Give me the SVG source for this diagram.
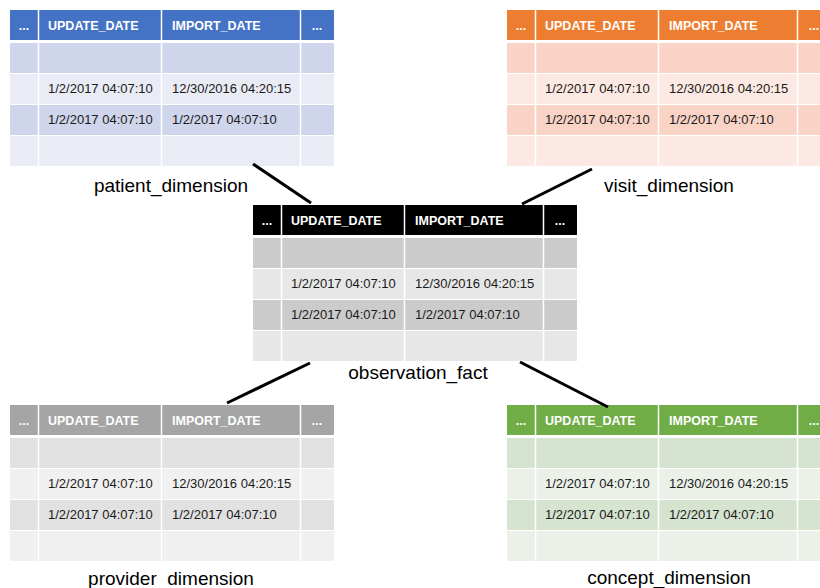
<svg xmlns="http://www.w3.org/2000/svg" width="820" height="588" viewBox="0 0 820 588">
<style>
.hdr{font-family:"Liberation Sans",Arial,sans-serif;font-weight:bold;font-size:12.5px;fill:#ffffff}
.dot{font-family:"Liberation Sans",Arial,sans-serif;font-weight:bold;font-size:12.5px;fill:#ffffff;text-anchor:middle}
.dat{font-family:"Liberation Sans",Arial,sans-serif;font-size:13px;fill:#1a1a1a}
.lbl{font-family:"Liberation Sans",Arial,sans-serif;font-size:19px;fill:#000000;text-anchor:middle}
.grid{stroke:#ffffff;stroke-width:1.5}
.conn{stroke:#000000;stroke-width:3;fill:none}
.blue .h{fill:#4472C4}.blue .b{fill:#CFD5EA}.blue .l{fill:#E9EBF5}
.orange .h{fill:#ED7D31}.orange .b{fill:#F8D3C6}.orange .l{fill:#FCE9E3}
.black .h{fill:#000000}.black .b{fill:#CBCBCB}.black .l{fill:#E7E7E7}
.grey .h{fill:#A5A5A5}.grey .b{fill:#E1E1E1}.grey .l{fill:#F0F0F0}
.green .h{fill:#70AD47}.green .b{fill:#D5E3CF}.green .l{fill:#EBF1E9}
</style>

<g id="patient_dimension" class="blue" transform="translate(10,10)">
<rect class="h" x="0" y="0" width="324" height="30"/>
<rect class="b" x="0" y="33" width="324" height="30"/>
<rect class="l" x="0" y="64" width="324" height="30"/>
<rect class="b" x="0" y="95" width="324" height="30"/>
<rect class="l" x="0" y="126" width="324" height="30"/>
<g class="grid"><line x1="28.5" y1="0" x2="28.5" y2="156"/><line x1="151.5" y1="0" x2="151.5" y2="156"/><line x1="290.5" y1="0" x2="290.5" y2="156"/></g>
<text class="dot" x="14" y="19.5">...</text>
<text class="hdr" x="38" y="19.5">UPDATE_DATE</text>
<text class="hdr" x="162" y="19.5">IMPORT_DATE</text>
<text class="dot" x="307" y="19.5">...</text>
<text class="dat" x="38" y="83">1/2/2017 04:07:10</text>
<text class="dat" x="162" y="83">12/30/2016 04:20:15</text>
<text class="dat" x="38" y="114">1/2/2017 04:07:10</text>
<text class="dat" x="162" y="114">1/2/2017 04:07:10</text>
</g>
<text class="lbl" x="171" y="192">patient_dimension</text>

<g id="visit_dimension" class="orange" transform="translate(507,10)">
<rect class="h" x="0" y="0" width="324" height="30"/>
<rect class="b" x="0" y="33" width="324" height="30"/>
<rect class="l" x="0" y="64" width="324" height="30"/>
<rect class="b" x="0" y="95" width="324" height="30"/>
<rect class="l" x="0" y="126" width="324" height="30"/>
<g class="grid"><line x1="28.5" y1="0" x2="28.5" y2="156"/><line x1="151.5" y1="0" x2="151.5" y2="156"/><line x1="290.5" y1="0" x2="290.5" y2="156"/></g>
<text class="dot" x="14" y="19.5">...</text>
<text class="hdr" x="38" y="19.5">UPDATE_DATE</text>
<text class="hdr" x="162" y="19.5">IMPORT_DATE</text>
<text class="dot" x="307" y="19.5">...</text>
<text class="dat" x="38" y="83">1/2/2017 04:07:10</text>
<text class="dat" x="162" y="83">12/30/2016 04:20:15</text>
<text class="dat" x="38" y="114">1/2/2017 04:07:10</text>
<text class="dat" x="162" y="114">1/2/2017 04:07:10</text>
</g>
<text class="lbl" x="669" y="192">visit_dimension</text>

<g id="observation_fact" class="black" transform="translate(253,205)">
<rect class="h" x="0" y="0" width="324" height="30"/>
<rect class="b" x="0" y="33" width="324" height="30"/>
<rect class="l" x="0" y="64" width="324" height="30"/>
<rect class="b" x="0" y="95" width="324" height="30"/>
<rect class="l" x="0" y="126" width="324" height="30"/>
<g class="grid"><line x1="28.5" y1="0" x2="28.5" y2="156"/><line x1="151.5" y1="0" x2="151.5" y2="156"/><line x1="290.5" y1="0" x2="290.5" y2="156"/></g>
<text class="dot" x="14" y="19.5">...</text>
<text class="hdr" x="38" y="19.5">UPDATE_DATE</text>
<text class="hdr" x="162" y="19.5">IMPORT_DATE</text>
<text class="dot" x="307" y="19.5">...</text>
<text class="dat" x="38" y="83">1/2/2017 04:07:10</text>
<text class="dat" x="162" y="83">12/30/2016 04:20:15</text>
<text class="dat" x="38" y="114">1/2/2017 04:07:10</text>
<text class="dat" x="162" y="114">1/2/2017 04:07:10</text>
</g>
<text class="lbl" x="418" y="379">observation_fact</text>

<g id="provider_dimension" class="grey" transform="translate(10,405)">
<rect class="h" x="0" y="0" width="324" height="30"/>
<rect class="b" x="0" y="33" width="324" height="30"/>
<rect class="l" x="0" y="64" width="324" height="30"/>
<rect class="b" x="0" y="95" width="324" height="30"/>
<rect class="l" x="0" y="126" width="324" height="30"/>
<g class="grid"><line x1="28.5" y1="0" x2="28.5" y2="156"/><line x1="151.5" y1="0" x2="151.5" y2="156"/><line x1="290.5" y1="0" x2="290.5" y2="156"/></g>
<text class="dot" x="14" y="19.5">...</text>
<text class="hdr" x="38" y="19.5">UPDATE_DATE</text>
<text class="hdr" x="162" y="19.5">IMPORT_DATE</text>
<text class="dot" x="307" y="19.5">...</text>
<text class="dat" x="38" y="83">1/2/2017 04:07:10</text>
<text class="dat" x="162" y="83">12/30/2016 04:20:15</text>
<text class="dat" x="38" y="114">1/2/2017 04:07:10</text>
<text class="dat" x="162" y="114">1/2/2017 04:07:10</text>
</g>
<text class="lbl" x="171" y="585">provider_dimension</text>

<g id="concept_dimension" class="green" transform="translate(507,405)">
<rect class="h" x="0" y="0" width="324" height="30"/>
<rect class="b" x="0" y="33" width="324" height="30"/>
<rect class="l" x="0" y="64" width="324" height="30"/>
<rect class="b" x="0" y="95" width="324" height="30"/>
<rect class="l" x="0" y="126" width="324" height="30"/>
<g class="grid"><line x1="28.5" y1="0" x2="28.5" y2="156"/><line x1="151.5" y1="0" x2="151.5" y2="156"/><line x1="290.5" y1="0" x2="290.5" y2="156"/></g>
<text class="dot" x="14" y="19.5">...</text>
<text class="hdr" x="38" y="19.5">UPDATE_DATE</text>
<text class="hdr" x="162" y="19.5">IMPORT_DATE</text>
<text class="dot" x="307" y="19.5">...</text>
<text class="dat" x="38" y="83">1/2/2017 04:07:10</text>
<text class="dat" x="162" y="83">12/30/2016 04:20:15</text>
<text class="dat" x="38" y="114">1/2/2017 04:07:10</text>
<text class="dat" x="162" y="114">1/2/2017 04:07:10</text>
</g>
<text class="lbl" x="669" y="584">concept_dimension</text>

<g id="connectors">
<line class="conn" x1="253" y1="164" x2="311" y2="203"/>
<line class="conn" x1="592" y1="169" x2="522" y2="204"/>
<line class="conn" x1="310" y1="363" x2="227" y2="403"/>
<line class="conn" x1="520" y1="362" x2="608" y2="407"/>
</g>
</svg>
